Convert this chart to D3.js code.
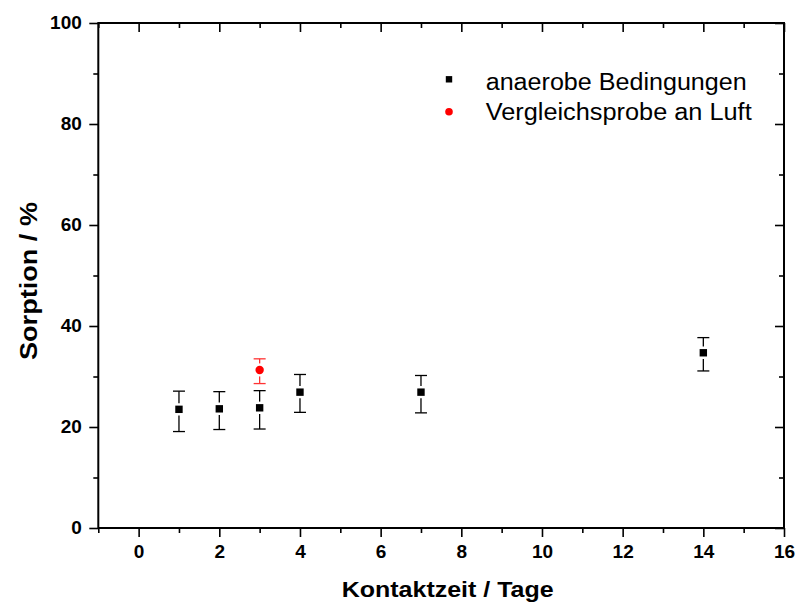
<!DOCTYPE html>
<html>
<head>
<meta charset="utf-8">
<script src="https://cdn.jsdelivr.net/npm/d3@7"></script>
<style>
  html, body { margin: 0; padding: 0; background: #fff; }
  svg { display: block; }
  text { font-family: "Liberation Sans", Arial, sans-serif; }
</style>
</head>
<body>
<svg id="chart" width="798" height="606"></svg>
<script>
// ---- data ----
const days      = [1, 2, 3, 4, 7, 14];
const sorption  = [23.5, 23.6, 23.8, 26.9, 26.9, 34.7];
const errHigh   = [27.1, 27.0, 27.2, 30.4, 30.2, 37.7];
const errLow    = [19.1, 19.5, 19.6, 22.9, 22.8, 31.1];

const refDays     = [3];
const refSorption = [31.3];
const refHigh     = [33.5];
const refLow      = [28.6];

const xTicks = [0, 2, 4, 6, 8, 10, 12, 14, 16];
const yTicks = [0, 20, 40, 60, 80, 100];
const xMinor = [-1, 1, 3, 5, 7, 9, 11, 13, 15];
const yMinor = [10, 30, 50, 70, 90];

const legendLabels = ["anaerobe Bedingungen", "Vergleichsprobe an Luft"];
const xTitle = "Kontaktzeit / Tage";
const yTitle = "Sorption / %";

// ---- layout ----
const svg = d3.select("#chart");
const L = 98.3, R = 784, T = 23, B = 528;
const x = d3.scaleLinear().domain([-1, 16]).range([L, R]);
const y = d3.scaleLinear().domain([0, 100]).range([B, T]);

const axisW = 2;
const major = 9, minor = 5;

// bottom axis (outward ticks)
const gB = svg.append("g").attr("transform", `translate(0,${B})`);
gB.call(d3.axisBottom(x).tickValues(xTicks).tickSize(major).tickPadding(8).tickFormat(d3.format("d")));
gB.append("g").call(d3.axisBottom(x).tickValues(xMinor).tickSize(minor).tickFormat(""));
// left axis (outward ticks)
const gL = svg.append("g").attr("transform", `translate(${L},0)`);
gL.call(d3.axisLeft(y).tickValues(yTicks).tickSize(major).tickPadding(7.5).tickFormat(d3.format("d")));
gL.append("g").call(d3.axisLeft(y).tickValues(yMinor).tickSize(minor).tickFormat(""));
// top axis (inward ticks)
const gT = svg.append("g").attr("transform", `translate(0,${T})`);
gT.call(d3.axisBottom(x).tickValues(xTicks).tickSize(major).tickFormat(""));
gT.append("g").call(d3.axisBottom(x).tickValues(xMinor).tickSize(minor).tickFormat(""));
// right axis (inward ticks)
const gR = svg.append("g").attr("transform", `translate(${R},0)`);
gR.call(d3.axisLeft(y).tickValues(yTicks).tickSize(major).tickFormat(""));
gR.append("g").call(d3.axisLeft(y).tickValues(yMinor).tickSize(minor).tickFormat(""));

svg.selectAll(".tick line").attr("stroke", "#000").attr("stroke-width", 1.6);
svg.selectAll(".tick text")
  .attr("font-size", 19).attr("font-weight", "bold").attr("fill", "#000")
  .attr("font-family", "Liberation Sans, Arial, sans-serif");
svg.selectAll("g.tick text").filter(function() { return d3.select(this.parentNode.parentNode).attr("transform") === `translate(${L},0)`; })
  .attr("dy", "0.28em");
// frame
svg.selectAll(".domain").remove();
svg.append("rect").attr("x", L).attr("y", T).attr("width", R - L).attr("height", B - T)
  .attr("fill", "none").attr("stroke", "#000").attr("stroke-width", axisW);

// ---- error bars ----
function errorBars(xs, ys, hi, lo, color, half) {
  const g = svg.append("g").attr("stroke", color).attr("stroke-width", 1.3).attr("fill", "none");
  const capW = 6, gap = 2.5;
  xs.forEach((d, i) => {
    const cx = x(d), cy = y(ys[i]);
    g.append("line").attr("x1", cx).attr("x2", cx).attr("y1", y(hi[i])).attr("y2", cy - half - gap);
    g.append("line").attr("x1", cx).attr("x2", cx).attr("y1", cy + half + gap).attr("y2", y(lo[i]));
    g.append("line").attr("x1", cx - capW).attr("x2", cx + capW).attr("y1", y(hi[i])).attr("y2", y(hi[i]));
    g.append("line").attr("x1", cx - capW).attr("x2", cx + capW).attr("y1", y(lo[i])).attr("y2", y(lo[i]));
  });
}
errorBars(days, sorption, errHigh, errLow, "#000", 3.7);
errorBars(refDays, refSorption, refHigh, refLow, "#f33", 4);

// ---- markers ----
const sq = 7.4;
svg.append("g").selectAll("rect").data(days).join("rect")
  .attr("x", (d) => x(d) - sq / 2)
  .attr("y", (d, i) => y(sorption[i]) - sq / 2)
  .attr("width", sq).attr("height", sq).attr("fill", "#000");
svg.append("g").selectAll("circle").data(refDays).join("circle")
  .attr("cx", (d) => x(d)).attr("cy", (d, i) => y(refSorption[i]))
  .attr("r", 4.2).attr("fill", "#f00");

// ---- legend ----
const lg = svg.append("g");
lg.append("rect").attr("x", 449 - 3.2).attr("y", 79.3 - 3.2).attr("width", 6.4).attr("height", 6.4).attr("fill", "#000");
lg.append("circle").attr("cx", 449).attr("cy", 111.7).attr("r", 3.8).attr("fill", "#f00");
lg.append("text").attr("x", 485.7).attr("y", 90).attr("font-size", 23)
  .attr("textLength", 261).attr("lengthAdjust", "spacingAndGlyphs").text(legendLabels[0]);
lg.append("text").attr("x", 485.7).attr("y", 119.5).attr("font-size", 23)
  .attr("textLength", 266).attr("lengthAdjust", "spacingAndGlyphs").text(legendLabels[1]);

// ---- axis titles ----
svg.append("text").attr("x", 341.7).attr("y", 596.7)
  .attr("font-size", 21.5).attr("font-weight", "bold")
  .attr("textLength", 212).attr("lengthAdjust", "spacingAndGlyphs").text(xTitle);
svg.append("text").attr("transform", "translate(36.7,360) rotate(-90)")
  .attr("font-size", 23).attr("font-weight", "bold")
  .attr("textLength", 158).attr("lengthAdjust", "spacingAndGlyphs").text(yTitle);
</script>
</body>
</html>
